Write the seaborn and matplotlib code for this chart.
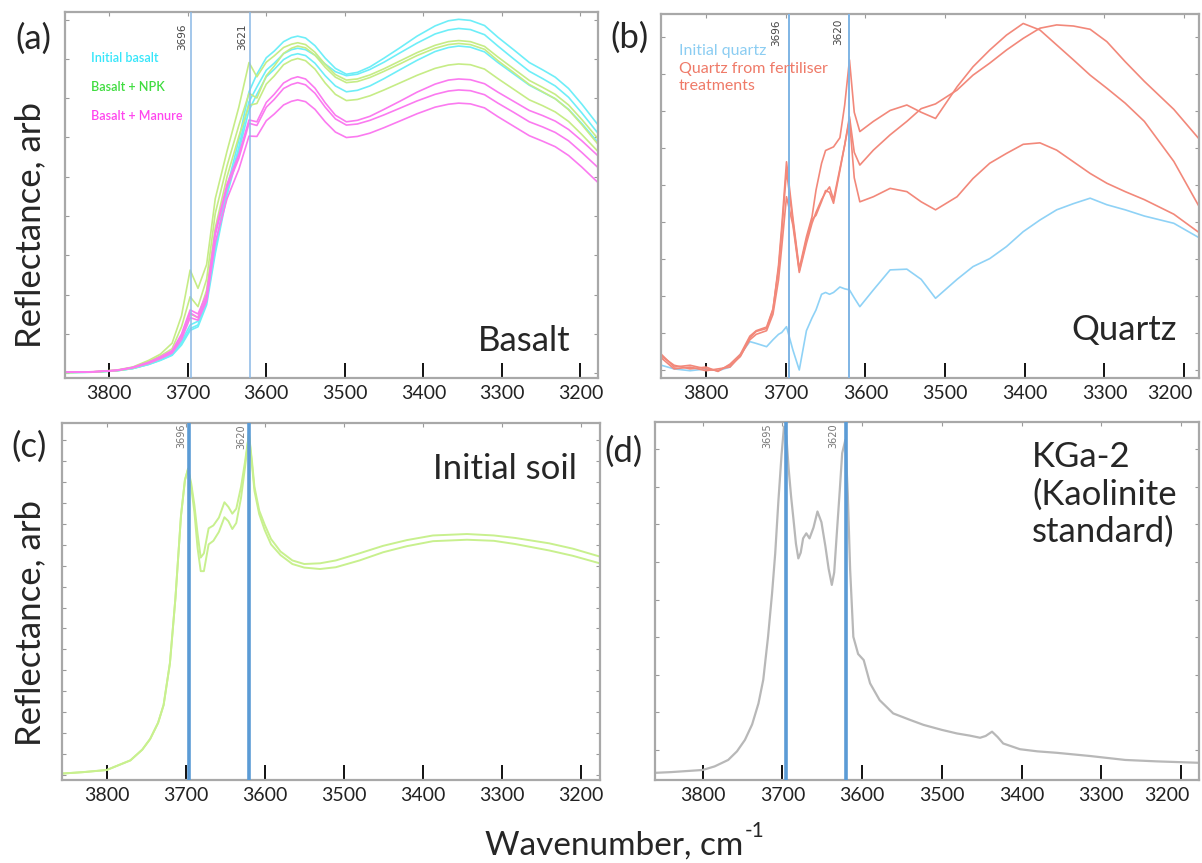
import numpy as np
import pandas as pd
import matplotlib
matplotlib.use("Agg")
import matplotlib.pyplot as plt
import matplotlib.transforms as mtrans
import seaborn as sns

# ---------------- DATA ----------------
# (a) Basalt
A_WN = [3856, 3820, 3790, 3770, 3750, 3735, 3720, 3708, 3697, 3687, 3676, 3665, 3650, 3635, 3622, 3612,
        3600, 3590, 3578, 3568, 3560, 3550, 3538, 3525, 3512, 3498, 3484, 3468, 3450, 3430, 3408, 3385,
        3368, 3355, 3340, 3322, 3305, 3285, 3265, 3248, 3232, 3215, 3198, 3178]
A_INIT_1 = [1.5, 1.6, 2.0, 2.6, 3.8, 5.0, 6.5, 10.0, 14.5, 15.5, 22, 36, 52, 65, 78.2, 83,
            87.5, 89.3, 91.9, 93.0, 93.4, 92.9, 90.8, 87.4, 84.6, 83.0, 83.5, 85.0, 87.4, 90.2, 93.4, 96.2,
            97.6, 98.0, 97.7, 96.3, 93.1, 89.7, 86.2, 84.2, 82.2, 79.1, 74.8, 69.3]
A_INIT_2 = [1.5, 1.6, 2.0, 2.6, 3.7, 4.9, 6.3, 9.5, 13.5, 14.5, 21, 35, 51, 63, 75.5, 79.5,
            84.1, 86.0, 88.6, 89.7, 90.1, 89.7, 88.2, 85.8, 83.7, 82.6, 83.0, 84.3, 86.3, 88.8, 91.5, 94.0,
            95.1, 95.5, 95.2, 93.8, 90.7, 87.2, 83.8, 81.8, 79.8, 76.7, 72.4, 67.0]
A_INIT_3 = [1.5, 1.6, 2.0, 2.6, 3.7, 4.8, 6.2, 9.0, 13.0, 14.0, 20, 34, 50, 62, 73.2, 77.5,
            82.3, 84.3, 87.0, 88.2, 88.6, 88.1, 86.0, 82.6, 79.8, 78.2, 78.6, 79.8, 81.8, 84.2, 86.8, 89.2,
            90.3, 90.7, 90.4, 89.1, 86.2, 83.1, 80.0, 78.1, 76.3, 73.4, 69.5, 64.5]
A_NPK_1 = [1.5, 1.7, 2.2, 3.0, 4.8, 6.5, 9.5, 17.0, 29.5, 24.5, 31, 49, 62, 74, 86.2, 82.3,
           86.3, 88.0, 90.3, 91.2, 91.6, 91.1, 89.0, 85.7, 82.9, 81.4, 81.7, 82.8, 84.5, 86.6, 88.9, 90.9,
           91.9, 92.2, 91.9, 90.6, 87.7, 84.5, 81.3, 79.4, 77.5, 74.6, 70.6, 65.5]
A_NPK_2 = [1.5, 1.7, 2.1, 2.9, 4.5, 6.0, 8.0, 14.0, 22.2, 19.5, 27, 45, 58, 69, 77.8, 76.5,
           82.6, 85.2, 88.7, 90.1, 90.7, 90.2, 88.2, 84.9, 82.2, 80.7, 81.0, 82.1, 83.8, 85.8, 88.1, 90.1,
           91.1, 91.4, 91.1, 89.8, 86.7, 83.5, 80.2, 78.2, 76.3, 73.3, 69.2, 64.0]
A_NPK_3 = [1.5, 1.6, 2.0, 2.7, 4.0, 5.3, 7.0, 11.0, 17.5, 16.5, 24, 41, 55, 66, 74.5, 75.0,
           80.3, 82.5, 85.6, 86.8, 87.3, 86.7, 84.4, 80.6, 77.5, 75.8, 76.1, 77.1, 78.7, 80.6, 82.7, 84.6,
           85.5, 85.8, 85.6, 84.4, 81.8, 78.9, 76.0, 74.4, 72.7, 70.1, 66.5, 62.0]
A_MAN_1 = [1.6, 1.7, 2.1, 2.9, 4.3, 5.8, 7.5, 12.0, 18.6, 17.5, 23, 40, 53, 61, 70.5, 70.0,
           75.3, 77.5, 80.6, 81.8, 82.3, 81.7, 79.2, 75.2, 71.8, 70.0, 70.4, 71.5, 73.4, 75.6, 78.1, 80.3,
           81.4, 81.7, 81.5, 80.4, 78.1, 75.6, 73.1, 71.7, 70.2, 67.9, 64.8, 60.8]
A_MAN_2 = [1.6, 1.7, 2.1, 2.9, 4.2, 5.6, 7.2, 11.5, 17.8, 16.5, 22, 39, 52, 60, 69.6, 69.0,
           74.0, 76.1, 79.1, 80.2, 80.7, 80.1, 77.8, 74.0, 70.8, 69.1, 69.4, 70.4, 71.9, 73.7, 75.7, 77.5,
           78.4, 78.7, 78.5, 77.4, 75.1, 72.6, 70.0, 68.6, 67.1, 64.8, 61.6, 57.6]
A_MAN_3 = [1.6, 1.7, 2.1, 2.8, 4.0, 5.3, 6.8, 10.5, 16.5, 15.8, 21, 37, 49, 57, 66.1, 66.0,
           70.3, 72.1, 74.6, 75.6, 76.0, 75.5, 73.4, 70.0, 67.2, 65.7, 66.0, 66.9, 68.4, 70.2, 72.2, 74.0,
           74.8, 75.1, 74.9, 73.8, 71.4, 68.8, 66.2, 64.7, 63.2, 60.8, 57.6, 53.5]
A_MARKS = [3696, 3621]
A_LEGEND = ["Initial basalt", "Basalt + NPK", "Basalt + Manure"]

# (b) Quartz
B_WN = [3856, 3840, 3820, 3800, 3785, 3770, 3757, 3745, 3737, 3724, 3716, 3709, 3705, 3699, 3691, 3683,
        3674, 3667, 3662, 3655, 3650, 3645, 3640, 3632, 3626, 3620, 3614, 3607, 3590, 3569, 3548, 3530,
        3512, 3485, 3465, 3444, 3423, 3402, 3381, 3360, 3339, 3318, 3297, 3274, 3250, 3213, 3181]
B_TREAT_1 = [6.5, 3.0, 3.5, 2.5, 2.0, 3.5, 5.9, 11.0, 12.8, 13.6, 18.7, 31.0, 41.6, 59.4, 44.0, 30.0,
             38.8, 44.3, 51.6, 59.0, 62.5, 63.0, 63.5, 66.0, 75.0, 87.4, 73.0, 67.7, 70.5, 73.5, 75.0, 73.0,
             71.3, 80.0, 85.5, 90.1, 94.2, 97.4, 95.6, 91.5, 87.4, 83.2, 79.6, 75.5, 70.5, 59.5, 47.0]
B_TREAT_2 = [5.5, 2.5, 3.0, 2.0, 2.5, 3.0, 6.0, 10.5, 12.0, 13.0, 17.5, 27.0, 36.0, 49.8, 42.0, 29.0,
             37.0, 42.5, 45.5, 49.0, 51.0, 52.5, 49.0, 57.5, 64.0, 71.8, 62.0, 58.5, 62.6, 66.8, 70.5, 74.0,
             75.3, 79.1, 83.2, 86.5, 90.1, 93.3, 96.1, 97.0, 96.7, 95.8, 92.4, 86.9, 81.5, 73.8, 65.6]
B_TREAT_3 = [6.0, 3.5, 2.5, 3.0, 1.8, 3.8, 6.5, 11.5, 13.0, 14.0, 19.0, 30.0, 40.0, 57.0, 43.0, 29.5,
             38.0, 43.5, 44.7, 48.5, 51.5, 51.0, 48.0, 57.0, 64.0, 71.0, 55.0, 48.4, 49.8, 52.1, 51.2, 48.4,
             46.2, 49.8, 54.8, 59.0, 61.7, 64.2, 64.6, 62.6, 59.4, 56.2, 53.5, 51.2, 49.0, 45.0, 39.9]
B_INIT = [3.5, 2.5, 2.0, 2.5, 2.0, 3.0, 6.5, 10.0, 9.5, 8.6, 10.5, 12.0, 12.5, 14.1, 7.7, 2.2,
          13.0, 16.5, 18.7, 23.0, 23.5, 23.0, 23.5, 25.0, 24.5, 24.2, 22.0, 19.6, 24.2, 29.7, 29.9, 27.1,
          21.9, 27.1, 30.6, 32.8, 36.1, 40.2, 43.4, 46.2, 47.9, 49.4, 47.6, 46.2, 44.5, 42.5, 38.5]
B_MARKS = [3696, 3620]
B_LEGEND = ["Initial quartz", "Quartz from fertiliser", "treatments"]

# (c) Initial soil
C_WN = [3857, 3830, 3800, 3770, 3755, 3745, 3735, 3728, 3720, 3713, 3706, 3701, 3697, 3693, 3689, 3685,
        3681, 3677, 3671, 3665, 3658, 3651, 3646, 3641, 3636, 3630, 3625, 3620, 3616, 3613, 3607, 3600,
        3592, 3580, 3565, 3550, 3530, 3510, 3480, 3450, 3420, 3387, 3344, 3310, 3283, 3240, 3210, 3176]
C_SOIL_1 = [1.8, 2.2, 2.8, 5.5, 8.5, 11.5, 16, 21, 32.7, 51, 74, 84, 87.2, 83, 77, 69,
            62.3, 63.5, 70.5, 71.3, 73.5, 77.8, 76.5, 74.6, 76, 82.1, 89, 97, 89, 82.1, 75.5, 71.5,
            67.5, 64.0, 61.5, 60.5, 60.7, 61.5, 63.5, 65.6, 67.2, 68.5, 68.9, 68.5, 67.8, 66.3, 64.8, 62.6]
C_SOIL_2 = [1.8, 2.2, 2.8, 5.5, 8.5, 11.5, 16, 21, 32.7, 51, 74, 84, 87.2, 82, 75, 65,
            58.5, 58.5, 66.0, 67.0, 69.5, 73.6, 72.5, 70.3, 72, 79, 87.5, 97, 88, 81, 74.5, 70,
            66, 63.0, 60.5, 59.5, 59.1, 59.6, 61.5, 63.8, 65.5, 66.9, 67.3, 67.0, 66.1, 64.3, 62.8, 60.7]
C_MARKS = [3696, 3620]

# (d) KGa-2 kaolinite standard
D_WN = [3860, 3840, 3820, 3800, 3785, 3768, 3757, 3747, 3738, 3730, 3724, 3718, 3713, 3709, 3705, 3701,
        3698, 3695, 3692, 3689, 3686, 3683, 3680, 3677, 3674, 3670, 3666, 3661, 3656, 3651, 3646, 3642,
        3638, 3635, 3632, 3628, 3625, 3621, 3618, 3615, 3611, 3605, 3598, 3590, 3578, 3561, 3540, 3523,
        3500, 3481, 3465, 3452, 3445, 3437, 3430, 3423, 3402, 3380, 3356, 3314, 3270, 3230, 3177]
D_KGA2 = [2.0, 2.2, 2.5, 2.8, 3.8, 5.6, 8.0, 11.2, 15.5, 21.4, 28.0, 40.0, 52.0, 63.3, 78.0, 91.0,
          98.7, 96.0, 86.6, 79.0, 72.6, 66.0, 61.9, 63.5, 67.5, 68.9, 67.5, 70.5, 75.0, 72.0, 65.2, 59.0,
          54.5, 58.0, 68.0, 81.0, 91.3, 95.0, 80.0, 58.7, 40.0, 35.2, 33.5, 27.0, 22.3, 18.6, 16.8, 15.4,
          14.0, 13.0, 12.4, 11.8, 12.3, 13.5, 12.0, 10.2, 8.6, 8.0, 7.6, 6.7, 5.6, 5.2, 4.8]
D_MARKS = [3695, 3620]

X_TICKS = [3800, 3700, 3600, 3500, 3400, 3300, 3200]

# ---------------- STYLE ----------------
sns.set_style("white")
plt.rcParams["font.family"] = ["Lato", "DejaVu Sans"]
plt.rcParams["mathtext.default"] = "regular"

W, H = 1202, 863
fig = plt.figure(figsize=(W / 100, H / 100), dpi=100)


def add_axes(l, t, r, b):
    return fig.add_axes([l / W, 1 - b / H, (r - l) / W, (b - t) / H])


def long_df(wn, curves):
    parts = []
    for name, (group, vals) in curves.items():
        parts.append(pd.DataFrame({"wavenumber": wn, "reflectance": vals,
                                   "curve": name, "group": group}))
    return pd.concat(parts, ignore_index=True)


def style_axes(ax, xlim, ytick_start, ytick_step, last_shift=0):
    ax.set_xlim(*xlim)
    ax.set_ylim(0, 100)
    ax.set_xlabel("")
    ax.set_ylabel("")
    for s in ax.spines.values():
        s.set_visible(True)
        s.set_color("#a8a8a8")
        s.set_linewidth(1.6)
    ax.set_xticks(X_TICKS)
    ax.set_xticklabels([str(t) for t in X_TICKS])
    ax.tick_params(axis="x", which="major", direction="in", length=11, width=1.4,
                   color="#111111", labelsize=14, pad=5, labelcolor="#222222",
                   bottom=True, top=False)
    if last_shift:
        lab = ax.get_xticklabels()[-1]
        lab.set_transform(lab.get_transform() +
                          mtrans.ScaledTranslation(last_shift / 100, 0, fig.dpi_scale_trans))
    yt = np.arange(ytick_start, 100, ytick_step)
    ax.set_yticks(yt)
    ax.set_yticklabels([])
    ax.tick_params(axis="y", which="major", direction="in", length=3, width=0.8,
                   color="#9a9a9a", left=True, right=True)
    sec = ax.secondary_xaxis("top")
    sec.set_xticks(X_TICKS)
    sec.set_xticklabels([])
    sec.tick_params(direction="in", length=3, width=0.8, color="#9a9a9a")
    sec.spines["top"].set_visible(False)


def mark_lines(ax, marks, color, lw, dx_list, dy, fsize, tcolor):
    for m, dx in zip(marks, dx_list):
        ax.axvline(m, color=color, lw=lw, zorder=4)
        ax.annotate(str(m), xy=(m, 1), xycoords=("data", "axes fraction"),
                    xytext=(dx, dy), textcoords="offset pixels", rotation=90,
                    ha="right", va="top", fontsize=fsize, color=tcolor,
                    family=["DejaVu Sans"])


# ---------------- (a) ----------------
axA = add_axes(65, 12, 598, 378)
dfA = long_df(A_WN, {
    "i1": ("init", A_INIT_1), "i2": ("init", A_INIT_2), "i3": ("init", A_INIT_3),
    "n1": ("npk", A_NPK_1), "n2": ("npk", A_NPK_2), "n3": ("npk", A_NPK_3),
    "m1": ("man", A_MAN_1), "m2": ("man", A_MAN_2), "m3": ("man", A_MAN_3)})
sns.lineplot(data=dfA, x="wavenumber", y="reflectance", hue="group", units="curve",
             estimator=None, sort=False, legend=False, ax=axA, lw=1.2,
             palette={"init": "#6eeef8", "npk": "#c6ec86", "man": "#fb7af0"})
style_axes(axA, (3856.4, 3177.5), 1.28, 10.74)
mark_lines(axA, A_MARKS, "#8ab8e6", 1.1, [-4, -3], -11, 7.5, "#444444")
for txt, col, y in zip(A_LEGEND, ["#36e6fa", "#3fdc3f", "#ff45ee"], [57.5, 86.7, 115.8]):
    fig.text(91 / W, 1 - y / H, txt, color=col, fontsize=9, ha="left", va="center",
             fontweight="semibold")

# ---------------- (b) ----------------
axB = add_axes(661, 14, 1199, 378)
dfB = long_df(B_WN, {
    "q0": ("init", B_INIT),
    "t1": ("treat", B_TREAT_1), "t2": ("treat", B_TREAT_2), "t3": ("treat", B_TREAT_3)})
sns.lineplot(data=dfB, x="wavenumber", y="reflectance", hue="group", units="curve",
             estimator=None, sort=False, legend=False, ax=axB, lw=1.2,
             palette={"init": "#8fd2f6", "treat": "#f2887a"})
style_axes(axB, (3856.5, 3181.4), 2.2, 10.16, last_shift=-14)
mark_lines(axB, B_MARKS, "#7fb4e4", 1.4, [-8, -6], -5, 7.5, "#444444")
for txt, col, y in zip(B_LEGEND, ["#8ccdf2", "#ef7a68", "#ef7a68"], [51, 69, 86]):
    fig.text(679 / W, 1 - y / H, txt, color=col, fontsize=11.5, ha="left", va="center")

# ---------------- (c) ----------------
axC = add_axes(62, 423, 600, 780)
dfC = long_df(C_WN, {"s1": ("soil", C_SOIL_1), "s2": ("soil", C_SOIL_2)})
sns.lineplot(data=dfC, x="wavenumber", y="reflectance", hue="group", units="curve",
             estimator=None, sort=False, legend=False, ax=axC, lw=1.4,
             palette={"soil": "#c8f08e"})
style_axes(axC, (3856.6, 3175.6), 1.5, 5.85)
mark_lines(axC, C_MARKS, "#5b9bd5", 2.6, [-3, -3], -1, 7, "#777777")

# ---------------- (d) ----------------
axD = add_axes(655, 422, 1199, 780)
dfD = long_df(D_WN, {"k": ("kga", D_KGA2)})
sns.lineplot(data=dfD, x="wavenumber", y="reflectance", hue="group", units="curve",
             estimator=None, sort=False, legend=False, ax=axD, lw=1.6,
             palette={"kga": "#b8b8b8"})
style_axes(axD, (3859.8, 3177.4), 8.4, 10.5, last_shift=-14)
mark_lines(axD, D_MARKS, "#5b9bd5", 2.6, [-14, -8], -1, 7, "#777777")

# ---------------- figure texts ----------------
big = 25
fig.text(33.7 / W, 1 - 39 / H, "(a)", fontsize=big, ha="center", va="center")
fig.text(629 / W, 1 - 38 / H, "(b)", fontsize=big, ha="center", va="center")
fig.text(29 / W, 1 - 447 / H, "(c)", fontsize=big, ha="center", va="center")
fig.text(623 / W, 1 - 452 / H, "(d)", fontsize=big, ha="center", va="center")
fig.text(30 / W, 1 - 225 / H, "Reflectance, arb", fontsize=big, rotation=90,
         ha="center", va="center")
fig.text(30 / W, 1 - 623 / H, "Reflectance, arb", fontsize=big, rotation=90,
         ha="center", va="center")
xl = fig.text(485 / W, 1 - 855 / H, "Wavenumber, cm", fontsize=24, ha="left", va="baseline")
fig.canvas.draw()
bb = xl.get_window_extent()
fig.text((bb.x1 + 1) / W, (bb.y0 + 24) / H, "-1", fontsize=15, ha="left", va="baseline")
fig.text(478 / W, 1 - 351 / H, "Basalt", fontsize=big, ha="left", va="baseline")
fig.text(1071 / W, 1 - 340 / H, "Quartz", fontsize=big, ha="left", va="baseline")
fig.text(433 / W, 1 - 479 / H, "Initial soil", fontsize=big, ha="left", va="baseline")
fig.text(1032 / W, 1 - 441 / H, "KGa-2\n(Kaolinite\nstandard)", fontsize=big, ha="left",
         va="top", linespacing=1.2)

fig.savefig("out.png", dpi=100, facecolor="white")
